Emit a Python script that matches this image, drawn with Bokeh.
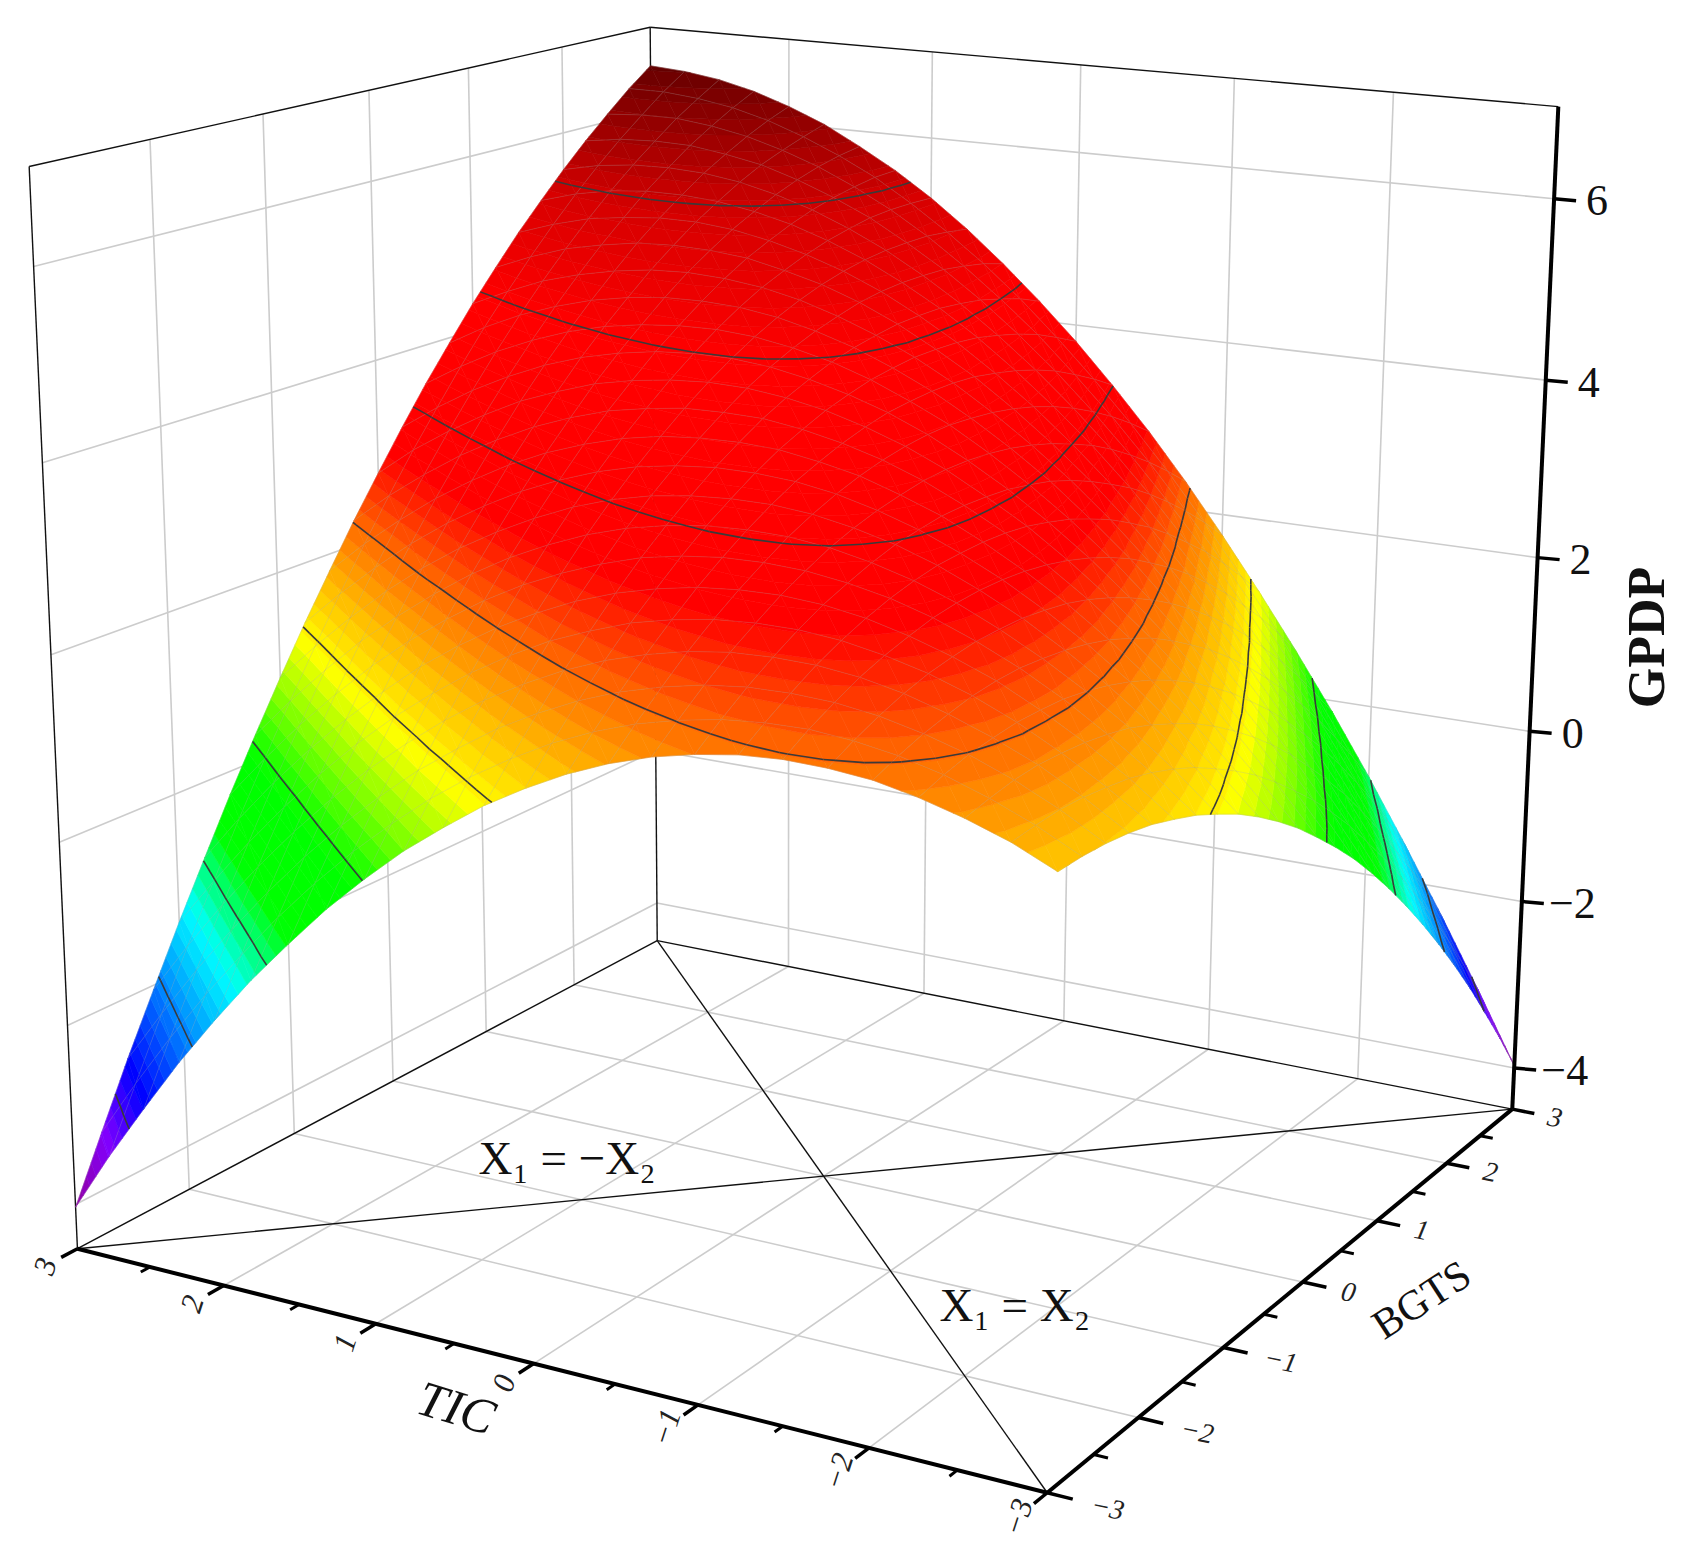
import numpy as np
from bokeh.plotting import figure
from bokeh.models import Range1d
from bokeh.core.properties import value
from bokeh.embed import file_html
from bokeh.resources import INLINE

# ---- data: values, in hundredths of a GPDP unit
TIC_VALUES = [-3, -2.75, -2.5, -2.25, -2, -1.75, -1.5, -1.25, -1, -0.75, -0.5, -0.25, 0, 0.25, 0.5, 0.75, 1, 1.25, 1.5, 1.75, 2, 2.25, 2.5, 2.75, 3]
BGTS_VALUES = [-3, -2.75, -2.5, -2.25, -2, -1.75, -1.5, -1.25, -1, -0.75, -0.5, -0.25, 0, 0.25, 0.5, 0.75, 1, 1.25, 1.5, 1.75, 2, 2.25, 2.5, 2.75, 3]
GPDP_X100 = [
    [162, 163, 162, 159, 154, 146, 137, 125, 112, 96, 78, 58, 35, 11, -15, -44, -75, -108, -143, -180, -219, -260, -304, -349, -397],
    [182, 185, 187, 186, 183, 179, 172, 163, 152, 138, 123, 106, 86, 64, 41, 15, -13, -44, -76, -110, -147, -185, -226, -269, -314],
    [197, 203, 208, 210, 209, 207, 203, 197, 188, 177, 165, 150, 133, 114, 93, 70, 44, 17, -12, -44, -78, -114, -151, -191, -234],
    [209, 218, 225, 229, 232, 232, 231, 227, 221, 213, 203, 191, 177, 160, 142, 121, 99, 74, 47, 19, -12, -45, -80, -118, -157],
    [218, 229, 238, 245, 251, 254, 255, 253, 250, 245, 238, 228, 217, 203, 187, 170, 150, 128, 104, 78, 50, 20, -13, -47, -83],
    [222, 236, 248, 258, 266, 271, 275, 276, 276, 273, 269, 262, 253, 242, 229, 214, 197, 178, 157, 134, 108, 81, 52, 20, -13],
    [223, 240, 254, 267, 277, 285, 292, 296, 298, 298, 296, 292, 286, 278, 268, 256, 241, 225, 207, 186, 164, 139, 113, 84, 53],
    [220, 239, 256, 272, 285, 296, 305, 312, 317, 319, 320, 319, 316, 310, 303, 293, 282, 268, 253, 235, 215, 194, 170, 144, 116],
    [213, 235, 255, 273, 289, 303, 314, 324, 332, 337, 341, 342, 341, 339, 334, 328, 319, 308, 295, 281, 264, 245, 224, 201, 176],
    [203, 227, 250, 271, 289, 306, 320, 333, 343, 351, 357, 362, 364, 364, 362, 358, 352, 344, 334, 323, 309, 293, 275, 255, 233],
    [189, 216, 241, 265, 286, 305, 322, 338, 351, 362, 371, 378, 383, 386, 387, 385, 382, 377, 370, 361, 350, 337, 322, 305, 286],
    [171, 201, 229, 255, 279, 301, 321, 339, 355, 369, 380, 390, 398, 404, 407, 409, 409, 407, 402, 396, 388, 378, 365, 351, 335],
    [149, 182, 213, 242, 269, 293, 316, 337, 355, 372, 387, 399, 410, 418, 425, 429, 432, 432, 431, 428, 422, 415, 406, 394, 381],
    [124, 159, 193, 225, 254, 282, 308, 331, 352, 372, 389, 405, 418, 429, 439, 446, 451, 455, 456, 456, 453, 449, 442, 434, 423],
    [94, 133, 170, 204, 237, 267, 295, 322, 346, 368, 388, 406, 423, 437, 449, 459, 467, 474, 478, 480, 480, 479, 475, 470, 462],
    [62, 103, 142, 180, 215, 248, 279, 309, 336, 361, 384, 405, 424, 441, 456, 469, 480, 489, 496, 501, 504, 505, 505, 502, 498],
    [25, 69, 112, 152, 190, 226, 260, 292, 322, 350, 376, 399, 421, 441, 459, 475, 489, 500, 510, 518, 524, 529, 531, 531, 530],
    [-15, 32, 77, 120, 161, 200, 237, 272, 304, 335, 364, 391, 415, 438, 458, 477, 494, 509, 521, 532, 541, 548, 553, 557, 558],
    [-60, -9, 39, 85, 129, 171, 210, 248, 283, 317, 349, 378, 406, 431, 454, 476, 496, 513, 529, 542, 554, 564, 572, 578, 582],
    [-107, -54, -3, 46, 93, 137, 180, 220, 259, 295, 330, 362, 392, 421, 447, 471, 494, 514, 533, 549, 564, 577, 587, 596, 604],
    [-159, -103, -49, 3, 53, 100, 146, 189, 231, 270, 307, 342, 376, 407, 436, 463, 488, 512, 533, 552, 570, 585, 599, 611, 621],
    [-214, -155, -98, -43, 9, 60, 108, 155, 199, 241, 281, 319, 355, 389, 421, 451, 479, 505, 529, 552, 572, 591, 607, 622, 635],
    [-274, -211, -151, -93, -38, 16, 67, 116, 163, 208, 251, 292, 331, 368, 403, 436, 467, 496, 523, 548, 571, 592, 612, 629, 645],
    [-336, -271, -208, -147, -89, -32, 22, 74, 124, 172, 218, 262, 304, 343, 381, 417, 450, 482, 512, 540, 566, 590, 612, 633, 651],
    [-403, -335, -268, -205, -143, -84, -26, 29, 82, 133, 181, 228, 272, 315, 356, 394, 431, 465, 498, 528, 557, 584, 609, 633, 654],
]
TIC_TICKS = [3, 2, 1, 0, -1, -2, -3]
BGTS_TICKS = [3, 2, 1, 0, -1, -2, -3]
GPDP_TICKS = [6, 4, 2, 0, -2, -4]
CONTOUR_LEVELS = [-3.0, -1.93, -0.87, 0.23, 1.29, 2.26, 3.34, 4.42, 5.46]
Z_FLOOR, Z_TOP = -4.5, 7.0
BAND_STEP = 0.125
COLOR_STOPS = [(-3.9, (144, 0, 176)), (-3.3, (128, 0, 255)), (-2.7, (0, 0, 255)), (-1.25, (0, 255, 255)), (-0.55, (0, 255, 0)),
               (0.15, (0, 255, 0)), (1.2, (255, 255, 0)), (1.7, (255, 190, 0)), (2.3, (255, 100, 0)), (2.9, (255, 0, 0)),
               (4.4, (255, 0, 0)), (5.4, (212, 0, 0)), (6.6, (96, 0, 0))]

# ---- camera, calibrated on the box
CAL = [((3, -3, -4.5), (76, 1250)), ((-3, -3, -4.5), (1044, 1491)), ((-3, 3, -4.5), (1512, 1108)),
       ((3, 3, -4.5), (655, 941)), ((3, -3, 7), (30, 166)), ((-3, 3, 7), (1558, 105)), ((3, 3, 7), (649, 26)),
       ((0, 3, -4.5), (1063, 1019)), ((3, 0, -4.5), (396, 1079)), ((0, -3, -4.5), (531, 1364)),
       ((-3, 0, -4.5), (1307, 1280)), ((-3, 3, 0), (1528, 735)), ((-3, 3, 4), (1545, 380))]
A, b = [], []
for (X, Y, Z), (u, v) in CAL:
    A.append([X, Y, Z, 1, 0, 0, 0, 0, -u*X, -u*Y, -u*Z]); b.append(u)
    A.append([0, 0, 0, 0, X, Y, Z, 1, -v*X, -v*Y, -v*Z]); b.append(v)
m = np.linalg.lstsq(np.array(A, float), np.array(b, float), rcond=None)[0]
M = np.append(m, 1).reshape(3, 4)

def proj(x, y, z):
    w = M[2, 0]*x + M[2, 1]*y + M[2, 2]*z + M[2, 3]
    return (M[0, 0]*x + M[0, 1]*y + M[0, 2]*z + M[0, 3]) / w, (M[1, 0]*x + M[1, 1]*y + M[1, 2]*z + M[1, 3]) / w

def color_of(z):
    zs = [s[0] for s in COLOR_STOPS]
    return "#%02x%02x%02x" % tuple(int(round(np.interp(z, zs, [s[1][c] for s in COLOR_STOPS]))) for c in range(3))

p = figure(width=1684, height=1542, output_backend="svg", toolbar_location=None,
           x_range=Range1d(0, 1684), y_range=Range1d(1542, 0), min_border=0)
p.axis.visible = False
p.grid.visible = False
p.outline_line_color = None

def seg3(pairs, color, width):
    xs, ys = [], []
    for a, c in pairs:
        u0, v0 = proj(*a); u1, v1 = proj(*c)
        xs.append([u0, u1]); ys.append([v0, v1])
    p.multi_line(xs, ys, line_color=color, line_width=width)

GRID = "#cccccc"
gl = []
for k in [-2, -1, 0, 1, 2]:
    gl += [((k, -3, Z_FLOOR), (k, 3, Z_FLOOR)), ((-3, k, Z_FLOOR), (3, k, Z_FLOOR)),
           ((k, 3, Z_FLOOR), (k, 3, Z_TOP)), ((3, k, Z_FLOOR), (3, k, Z_TOP))]
for z in GPDP_TICKS:
    gl += [((3, -3, z), (3, 3, z)), ((3, 3, z), (-3, 3, z))]
seg3(gl, GRID, 1.6)
seg3([((3, -3, Z_TOP), (3, 3, Z_TOP)), ((3, 3, Z_TOP), (-3, 3, Z_TOP)), ((3, -3, Z_TOP), (3, -3, Z_FLOOR)),
      ((3, 3, Z_TOP), (3, 3, Z_FLOOR)), ((3, 3, Z_FLOOR), (3, -3, Z_FLOOR)), ((3, 3, Z_FLOOR), (-3, 3, Z_FLOOR)),
      ((3, 3, Z_FLOOR), (-3, -3, Z_FLOOR)), ((3, -3, Z_FLOOR), (-3, 3, Z_FLOOR))], "#111111", 1.4)

# ---- surface
XS = np.array(TIC_VALUES, float); YS = np.array(BGTS_VALUES, float); ZS = np.array(GPDP_X100, float) / 100.0

def clip(poly, level, above):
    out = []
    n = len(poly)
    for i in range(n):
        a = poly[i]; c = poly[(i + 1) % n]
        ina = a[2] >= level if above else a[2] <= level
        inc = c[2] >= level if above else c[2] <= level
        if ina:
            out.append(a)
        if ina != inc:
            t = (level - a[2]) / (c[2] - a[2])
            out.append((a[0] + t*(c[0]-a[0]), a[1] + t*(c[1]-a[1]), level))
    return out

cells = sorted(((i, j) for i in range(len(XS)-1) for j in range(len(YS)-1)),
               key=lambda ij: -(XS[ij[0]] + YS[ij[1]]))
px, py, pc = [], [], []
cx, cy = [], []
for i, j in cells:
    v = [(XS[i], YS[j], ZS[i, j]), (XS[i+1], YS[j], ZS[i+1, j]), (XS[i+1], YS[j+1], ZS[i+1, j+1]), (XS[i], YS[j+1], ZS[i, j+1])]
    for tri in ([v[0], v[1], v[2]], [v[0], v[2], v[3]]):
        zs = [q[2] for q in tri]
        k0 = int(np.floor(min(zs) / BAND_STEP)); k1 = int(np.floor(max(zs) / BAND_STEP))
        for k in range(k0, k1 + 1):
            lo, hi = k*BAND_STEP, (k+1)*BAND_STEP
            poly = clip(clip(tri, lo, True), hi, False)
            if len(poly) < 3:
                continue
            arr = np.array(poly)
            u, w = proj(arr[:, 0], arr[:, 1], arr[:, 2])
            px.append(u.tolist()); py.append(w.tolist()); pc.append(color_of((lo+hi)/2))
        for lev in CONTOUR_LEVELS:
            pts = []
            for a in range(3):
                q, r = tri[a], tri[(a+1) % 3]
                if (q[2] < lev) != (r[2] < lev):
                    t = (lev - q[2]) / (r[2] - q[2])
                    pts.append((q[0]+t*(r[0]-q[0]), q[1]+t*(r[1]-q[1]), lev))
            if len(pts) == 2:
                u0, w0 = proj(*pts[0]); u1, w1 = proj(*pts[1])
                cx.append([u0, u1]); cy.append([w0, w1])
p.patches(px, py, fill_color=pc, line_color=pc, line_width=0.6)

mx, my = [], []
for i in range(len(XS)):
    u, w = proj(np.full(len(YS), XS[i]), YS, ZS[i, :]); mx.append(u.tolist()); my.append(w.tolist())
for j in range(len(YS)):
    u, w = proj(XS, np.full(len(XS), YS[j]), ZS[:, j]); mx.append(u.tolist()); my.append(w.tolist())
p.multi_line(mx, my, line_color="#a0a0a0", line_alpha=0.24, line_width=1)
p.multi_line(cx, cy, line_color="#3a3a3a", line_width=1.6)

# ---- axes
seg3([((3, -3, Z_FLOOR), (-3, -3, Z_FLOOR)), ((-3, -3, Z_FLOOR), (-3, 3, Z_FLOOR)), ((-3, 3, Z_FLOOR), (-3, 3, Z_TOP))], "#000000", 4)
major, minor = [], []
for t in np.arange(-3, 3.01, 0.5):
    isM = abs(t - round(t)) < 1e-6
    (major if isM else minor).append(((t, -3, Z_FLOOR), (t, -3.14 if isM else -3.08, Z_FLOOR)))
    (major if isM else minor).append(((-3, t, Z_FLOOR), (-3.14 if isM else -3.08, t, Z_FLOOR)))
seg3(major, "#000000", 3.5)
seg3(minor, "#000000", 3)
zu, zv = proj(np.full(len(GPDP_TICKS), -3.0), np.full(len(GPDP_TICKS), 3.0), np.array(GPDP_TICKS, float))
p.multi_line([[a, a+22] for a in zu], [[c, c+2] for c in zv], line_color="#000000", line_width=3.5)

SERIF = value("Liberation Serif")
def lab(v):
    return str(v).replace("-", "\u2212")
p.text(zu + np.array([54 if v >= 0 else 74 for v in GPDP_TICKS]), zv + 2, text=[lab(v) for v in GPDP_TICKS], text_font=SERIF, text_font_size="44px",
       text_align="right", text_baseline="middle", text_color="#111111")
u, w = proj(np.array(TIC_TICKS, float), np.array([-3.28 if v >= 0 else -3.31 for v in TIC_TICKS]), np.full(len(TIC_TICKS), Z_FLOOR))
p.text(u, w, text=[lab(v) for v in TIC_TICKS], text_font=SERIF, text_font_style="italic", text_font_size="31px",
       angle=[np.radians(72)]*len(u), text_align="center", text_baseline="middle", text_color="#222222")
u, w = proj(np.array([-3.27 if v >= 0 else -3.33 for v in BGTS_TICKS]), np.array(BGTS_TICKS, float), np.full(len(BGTS_TICKS), Z_FLOOR))
p.text(u, w, text=[lab(v) for v in BGTS_TICKS], text_font=SERIF, text_font_style="italic", text_font_size="28px",
       angle=[np.radians(-12)]*len(u), text_align="center", text_baseline="middle", text_color="#222222")
p.text([456], [1407], text=["TIC"], text_font=SERIF, text_font_style="italic", text_font_size="50px", angle=np.radians(-17),
       text_align="center", text_baseline="middle", text_color="#111111")
p.text([1421], [1299], text=["BGTS"], text_font=SERIF, text_font_size="42px", angle=np.radians(33),
       text_align="center", text_baseline="middle", text_color="#111111")
p.text([1646], [637], text=["GPDP"], text_font=SERIF, text_font_style="bold", text_font_size="52px", angle=np.radians(90),
       text_align="center", text_baseline="middle", text_color="#111111")
p.text([478], [1157], text=["X\u2081 = \u2212X\u2082"], text_font=SERIF, text_font_size="47px",
       text_align="left", text_baseline="middle", text_color="#111111")
p.text([939], [1304], text=["X\u2081 = X\u2082"], text_font=SERIF, text_font_size="47px",
       text_align="left", text_baseline="middle", text_color="#111111")

open("out.html", "w").write(file_html(p, INLINE))
